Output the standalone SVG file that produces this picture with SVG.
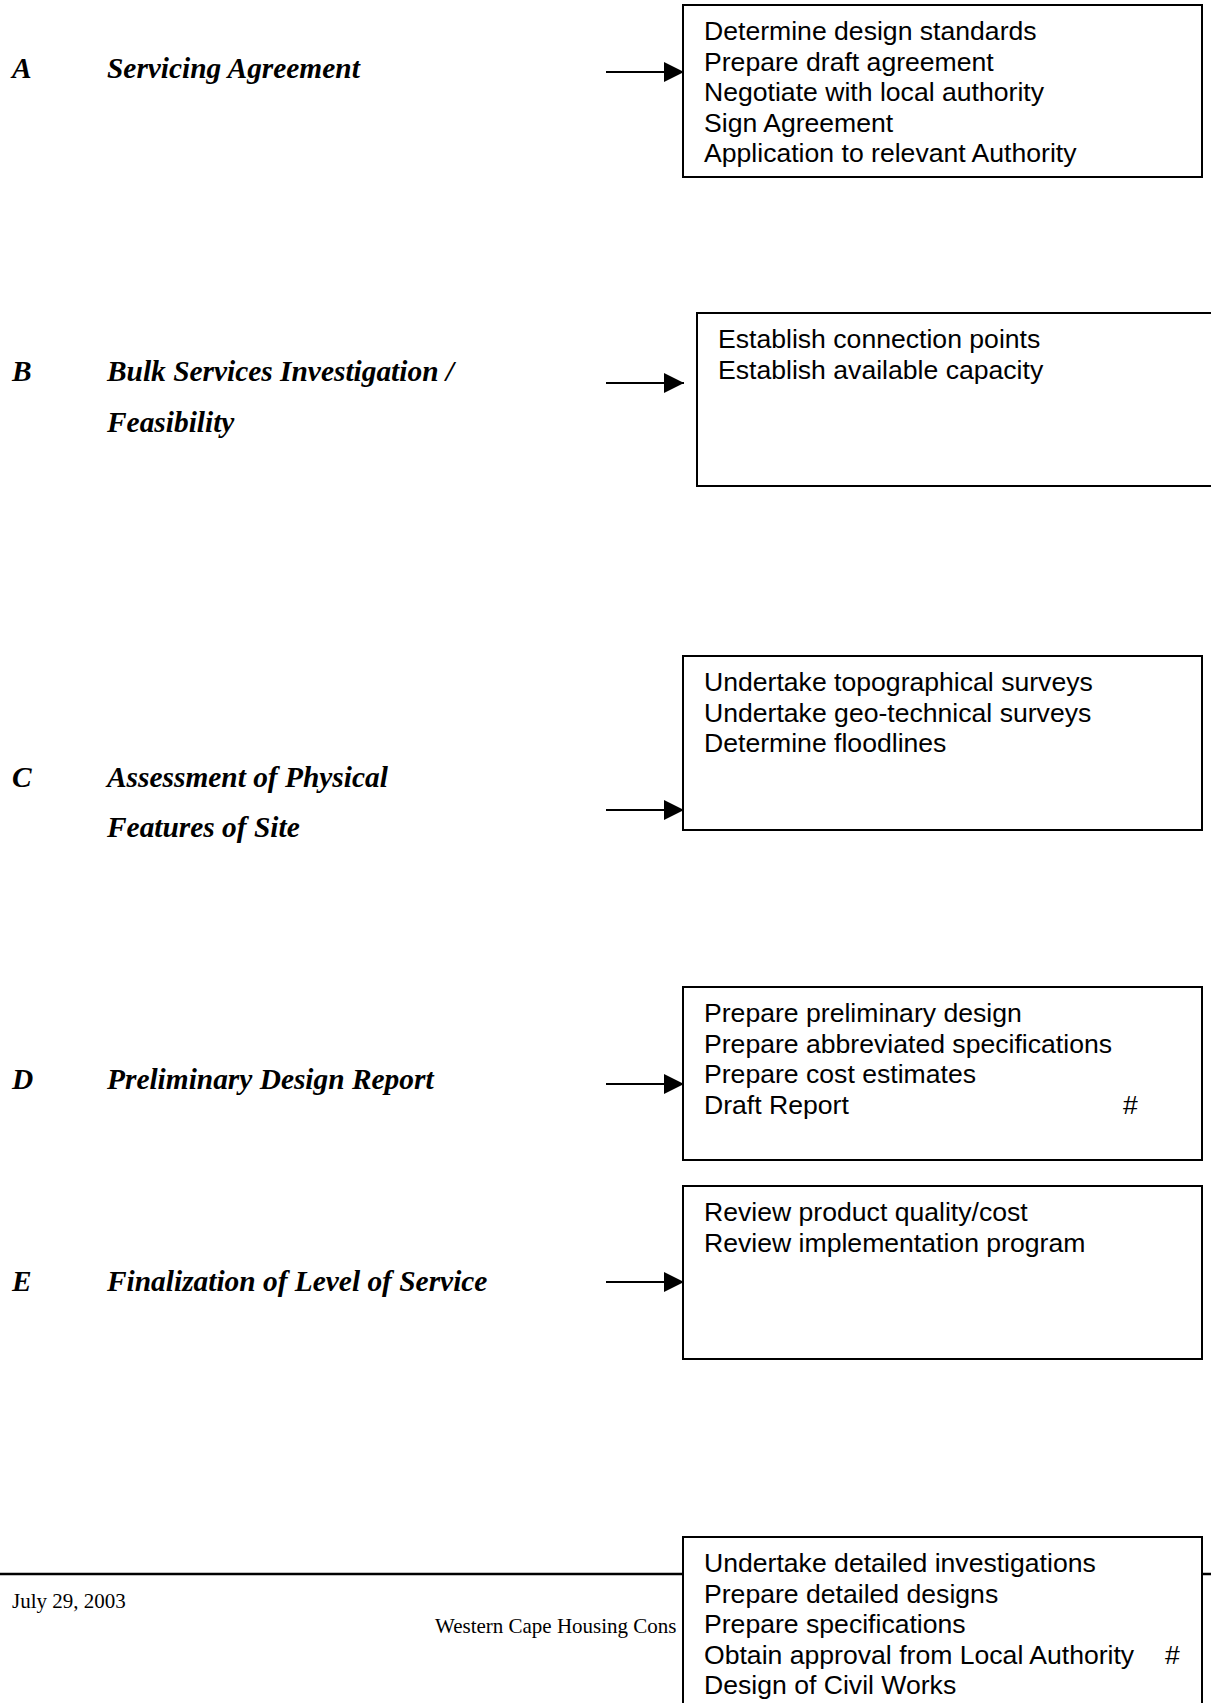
<svg xmlns="http://www.w3.org/2000/svg" width="1211" height="1703" viewBox="0 0 1211 1703">
  <style>
    .bg { fill: #ffffff; }
    .box { fill: #ffffff; stroke: #000000; stroke-width: 2; }
    .item { font-family: "Liberation Sans", Arial, sans-serif; font-size: 26.6px; fill: #000000; }
    .key { font-family: "Liberation Serif", "Times New Roman", serif; font-size: 29.4px; font-weight: bold; font-style: italic; fill: #000000; }
    .foot { font-family: "Liberation Serif", "Times New Roman", serif; font-size: 21px; fill: #000000; }
    .link { stroke: #000000; stroke-width: 2; fill: none; }
    .rule { stroke: #000000; stroke-width: 2.5; }
  </style>
  <defs>
    <marker id="head" viewBox="0 0 20 20" refX="20" refY="10" markerWidth="20" markerHeight="20" markerUnits="userSpaceOnUse" orient="auto">
      <path d="M0,0 L20,10 L0,20 Z" fill="#000000"/>
    </marker>
  </defs>

  <rect class="bg" x="0" y="0" width="1211" height="1703"/>

  <!-- page footer rule and text -->
  <g id="footer">
    <line class="rule" x1="0" y1="1574" x2="1211" y2="1574"/>
    <text class="foot" x="12" y="1608">July 29, 2003</text>
    <text class="foot" x="435" y="1633">Western Cape Housing Cons</text>
  </g>

  <!-- stage labels -->
  <g id="label-a">
    <text class="key" x="12" y="77.5">A</text>
    <text class="key" x="107" y="77.5">Servicing Agreement</text>
  </g>
  <g id="label-b">
    <text class="key" x="12" y="380.5">B</text>
    <text class="key" x="107" y="380.5">Bulk Services Investigation /</text>
    <text class="key" x="107" y="432">Feasibility</text>
  </g>
  <g id="label-c">
    <text class="key" x="12" y="786.5">C</text>
    <text class="key" x="107" y="786.5">Assessment of Physical</text>
    <text class="key" x="107" y="836.5">Features of Site</text>
  </g>
  <g id="label-d">
    <text class="key" x="12" y="1089">D</text>
    <text class="key" x="107" y="1089">Preliminary Design Report</text>
  </g>
  <g id="label-e">
    <text class="key" x="12" y="1291">E</text>
    <text class="key" x="107" y="1291">Finalization of Level of Service</text>
  </g>

  <!-- connectors -->
  <g id="connectors">
    <line class="link" x1="606" y1="72" x2="684" y2="72" marker-end="url(#head)"/>
    <line class="link" x1="606" y1="383" x2="684" y2="383" marker-end="url(#head)"/>
    <line class="link" x1="606" y1="810" x2="684" y2="810" marker-end="url(#head)"/>
    <line class="link" x1="606" y1="1084" x2="684" y2="1084" marker-end="url(#head)"/>
    <line class="link" x1="606" y1="1282" x2="684" y2="1282" marker-end="url(#head)"/>
  </g>

  <!-- task boxes -->
  <g id="box-a">
    <rect class="box" x="683" y="5" width="519" height="172"/>
    <text class="item" x="704" y="40">Determine design standards</text>
    <text class="item" x="704" y="70.6">Prepare draft agreement</text>
    <text class="item" x="704" y="101.2">Negotiate with local authority</text>
    <text class="item" x="704" y="131.8">Sign Agreement</text>
    <text class="item" x="704" y="162.4">Application to relevant Authority</text>
  </g>
  <g id="box-b">
    <rect class="box" x="697" y="313" width="530" height="173"/>
    <text class="item" x="718" y="348">Establish connection points</text>
    <text class="item" x="718" y="378.6">Establish available capacity</text>
  </g>
  <g id="box-c">
    <rect class="box" x="683" y="656" width="519" height="174"/>
    <text class="item" x="704" y="691">Undertake topographical surveys</text>
    <text class="item" x="704" y="721.6">Undertake geo-technical surveys</text>
    <text class="item" x="704" y="752.2">Determine floodlines</text>
  </g>
  <g id="box-d">
    <rect class="box" x="683" y="987" width="519" height="173"/>
    <text class="item" x="704" y="1022">Prepare preliminary design</text>
    <text class="item" x="704" y="1052.6">Prepare abbreviated specifications</text>
    <text class="item" x="704" y="1083.2">Prepare cost estimates</text>
    <text class="item" x="704" y="1113.8">Draft Report</text>
    <text class="item" x="1123" y="1113.8">#</text>
  </g>
  <g id="box-e">
    <rect class="box" x="683" y="1186" width="519" height="173"/>
    <text class="item" x="704" y="1221">Review product quality/cost</text>
    <text class="item" x="704" y="1251.6">Review implementation program</text>
  </g>
  <g id="box-f">
    <rect class="box" x="683" y="1537" width="519" height="200"/>
    <text class="item" x="704" y="1572">Undertake detailed investigations</text>
    <text class="item" x="704" y="1602.6">Prepare detailed designs</text>
    <text class="item" x="704" y="1633.2">Prepare specifications</text>
    <text class="item" x="704" y="1663.8">Obtain approval from Local Authority</text>
    <text class="item" x="1165" y="1663.8">#</text>
    <text class="item" x="704" y="1694.4">Design of Civil Works</text>
  </g>
</svg>
